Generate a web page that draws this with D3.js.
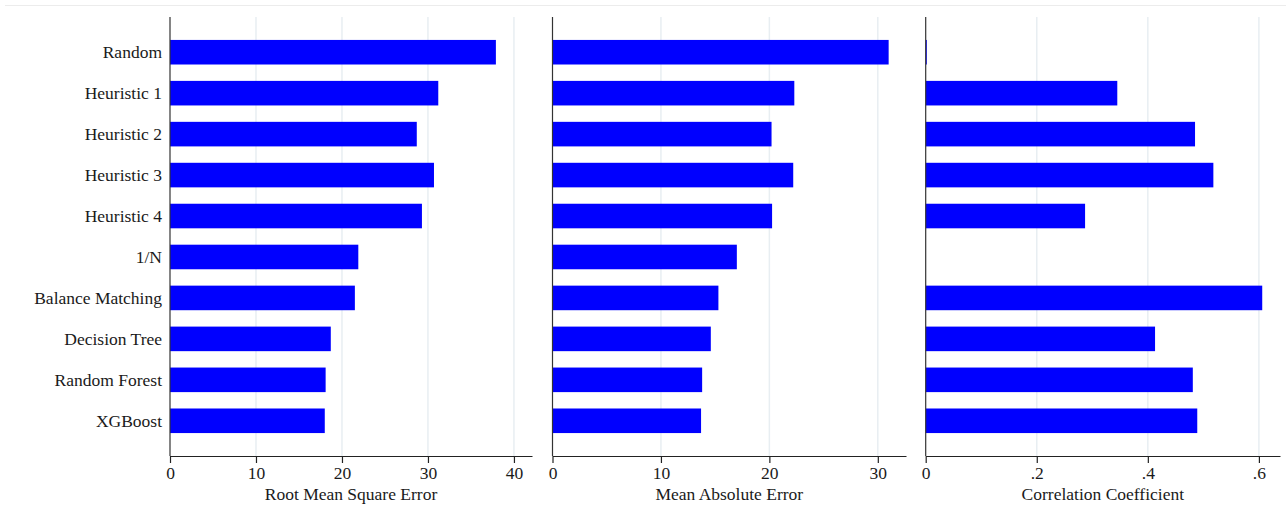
<!DOCTYPE html>
<html>
<head>
<meta charset="utf-8">
<script src="https://cdn.jsdelivr.net/npm/d3@7"></script>
<style>
  html, body { margin: 0; padding: 0; background: #fff; }
  svg { display: block; }
  text { font-family: "Liberation Serif", "Times New Roman", serif; fill: #1a1a1a; }
</style>
</head>
<body>
<svg id="chart" width="1286" height="510"></svg>
<script>
const categories = ["Random", "Heuristic 1", "Heuristic 2", "Heuristic 3", "Heuristic 4",
  "1/N", "Balance Matching", "Decision Tree", "Random Forest", "XGBoost"];
const rmse = [37.9, 31.2, 28.7, 30.7, 29.3, 21.9, 21.5, 18.7, 18.1, 18.0];
const mae  = [31.0, 22.3, 20.2, 22.2, 20.25, 17.0, 15.3, 14.6, 13.8, 13.7];
const corr = [0.002, 0.345, 0.485, 0.518, 0.287, null, 0.606, 0.413, 0.481, 0.489];
const rmseTicks = [0, 10, 20, 30, 40];
const maeTicks = [0, 10, 20, 30];
const corrTicks = [0, 0.2, 0.4, 0.6];
const titles = ["Root Mean Square Error", "Mean Absolute Error", "Correlation Coefficient"];

(function () {
const svg = d3.select("#chart");
const plotTop = 17, plotBottom = 456;

// faint outer frame line
svg.append("line").attr("x1", 5).attr("x2", 1286).attr("y1", 5.5).attr("y2", 5.5)
  .attr("stroke", "#ececec").attr("stroke-width", 1);

const y = d3.scaleBand().domain(categories).range([plotTop, plotBottom])
  .paddingInner(0.4).paddingOuter(0.56);

const corrFmt = v => v === 0 ? "0" : d3.format(".1f")(v).replace(/^0/, "");

const panels = [
  { values: rmse, ticks: rmseTicks, domain: [0, 42.1], range: [170, 532], fmt: d3.format("d") },
  { values: mae, ticks: maeTicks, domain: [0, 32.6], range: [552.5, 906], fmt: d3.format("d") },
  { values: corr, ticks: corrTicks, domain: [0, 0.638], range: [925.7, 1280], fmt: corrFmt }
];

panels.forEach((p, i) => {
  const x = d3.scaleLinear().domain(p.domain).range(p.range);
  const g = svg.append("g");

  // gridlines
  g.selectAll("line.grid").data(p.ticks.filter(t => t !== 0)).join("line")
    .attr("class", "grid")
    .attr("x1", d => x(d)).attr("x2", d => x(d))
    .attr("y1", plotTop).attr("y2", plotBottom)
    .attr("stroke", "#e8eef2").attr("stroke-width", 1.5);

  // bars
  g.selectAll("rect").data(categories.map((c, k) => ({ c, v: p.values[k] })).filter(d => d.v != null))
    .join("rect")
    .attr("x", x(0))
    .attr("y", d => y(d.c))
    .attr("width", d => Math.max(0, x(d.v) - x(0)))
    .attr("height", y.bandwidth())
    .attr("fill", "#0000ff");

  // x axis
  const axis = d3.axisBottom(x).tickValues(p.ticks).tickFormat(p.fmt).tickSize(7).tickSizeOuter(0);
  const ax = g.append("g").attr("transform", `translate(0,${plotBottom})`).call(axis);
  ax.select(".domain").attr("stroke", "#222").attr("stroke-width", 1.2);
  ax.selectAll(".tick line").attr("stroke", "#222").attr("stroke-width", 1.2);
  ax.selectAll(".tick text").attr("font-size", "17.5px").attr("font-family", "Liberation Serif, serif")
    .attr("fill", "#1a1a1a").attr("y", 11).attr("dy", "0.71em");

  // y axis line
  g.append("line").attr("x1", x(0)).attr("x2", x(0)).attr("y1", plotTop).attr("y2", plotBottom)
    .attr("stroke", "#333").attr("stroke-width", 1.2);

  // axis title
  g.append("text")
    .attr("x", (p.range[0] + p.range[1]) / 2)
    .attr("y", 500)
    .attr("text-anchor", "middle")
    .attr("font-size", "17.5px")
    .text(titles[i]);

  // category labels on first panel
  if (i === 0) {
    svg.append("g").selectAll("text").data(categories).join("text")
      .attr("x", 162)
      .attr("y", d => y(d) + y.bandwidth() / 2)
      .attr("dy", "0.33em")
      .attr("text-anchor", "end")
      .attr("font-size", "17.5px")
      .text(d => d);
  }
});
})();
</script>
</body>
</html>
